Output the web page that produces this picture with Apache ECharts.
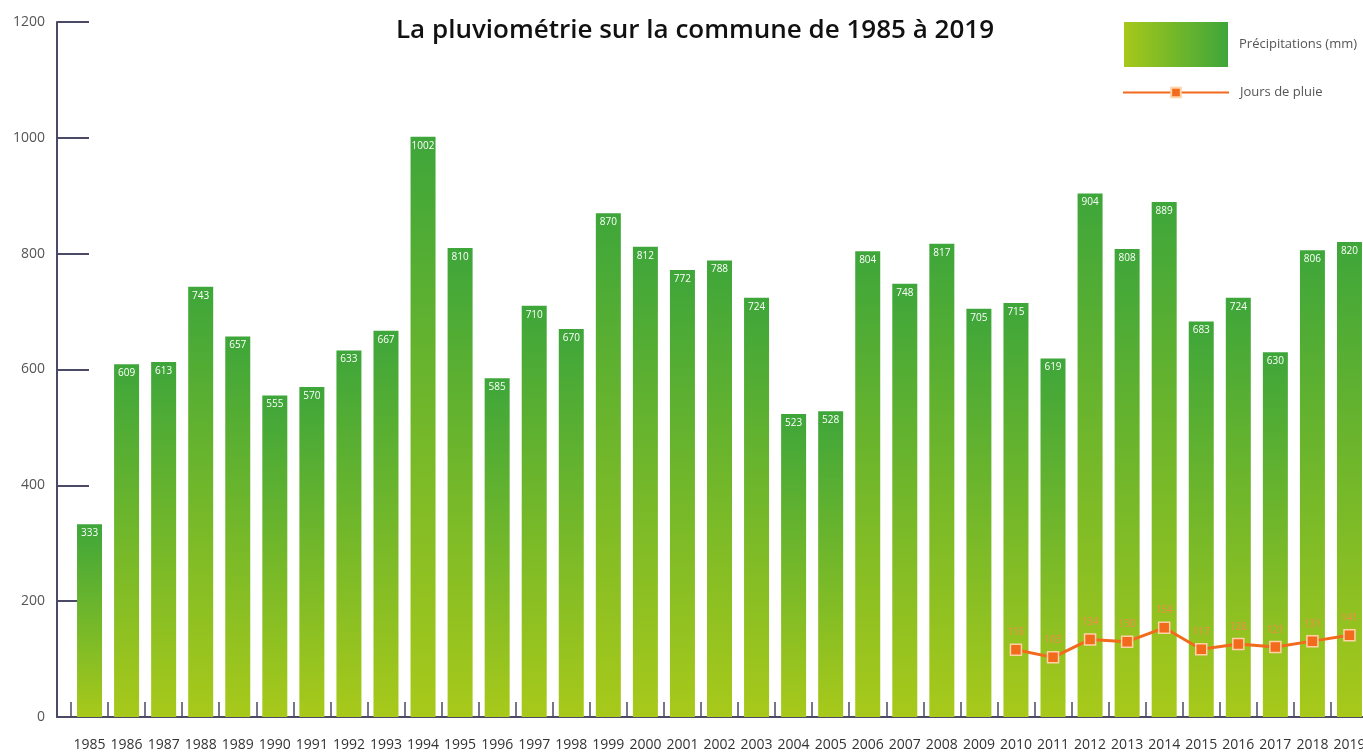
<!DOCTYPE html>
<html><head><meta charset="utf-8">
<script src="https://cdn.jsdelivr.net/npm/echarts@6/dist/echarts.min.js"></script>
<style>html,body{margin:0;padding:0;background:#fff;overflow:hidden}#c{width:1372px;height:753px}</style>
</head><body><div id="c"></div>
<script>
const years = ['1985','1986','1987','1988','1989','1990','1991','1992','1993','1994','1995','1996','1997','1998','1999','2000','2001','2002','2003','2004','2005','2006','2007','2008','2009','2010','2011','2012','2013','2014','2015','2016','2017','2018','2019'];
const precipitations = [333,609,613,743,657,555,570,633,667,1002,810,585,710,670,870,812,772,788,724,523,528,804,748,817,705,715,619,904,808,889,683,724,630,806,820];
const joursDePluie = [null,null,null,null,null,null,null,null,null,null,null,null,null,null,null,null,null,null,null,null,null,null,null,null,null,116,103,134,130,154,117,126,121,131,141];
const yTicks = {min:0, max:1200, interval:200};

const chart = echarts.init(document.getElementById('c'));
const axisColor = '#4a4a66';
chart.setOption({
  animation:false,
  title:{text:'La pluviométrie sur la commune de 1985 à 2019', left:690, textAlign:'center', top:13,
    textStyle:{fontFamily:'Open Sans', fontWeight:600, fontSize:26, color:'#111'}},
  legend:[
    {left:1124, top:22, padding:0, itemWidth:104, itemHeight:45, itemGap:0,
     textStyle:{color:'#555', fontSize:13, fontFamily:'Open Sans', padding:[0,0,0,6]},
     data:[{name:'Précipitations (mm)', icon:'rect', itemStyle:{color:new echarts.graphic.LinearGradient(0,0,1,0,[{offset:0,color:'#a6c81a'},{offset:1,color:'#3ea63a'}])}}]},
    {left:1122, top:86, padding:0, itemWidth:106, itemHeight:12, itemGap:0,
     textStyle:{color:'#555', fontSize:13, fontFamily:'Open Sans', padding:[0,0,0,6]},
     data:[{name:'Jours de pluie'}]}
  ],
  grid:[
    {left:71, width:1297, top:22, bottom:36, containLabel:false},
    {left:57, right:0, top:22, bottom:36}
  ],
  xAxis:[
    {type:'category', data:years, gridIndex:0, boundaryGap:true,
     axisLine:{show:false},
     axisTick:{show:true, inside:true, length:15, lineStyle:{color:axisColor, width:1.5}},
     axisLabel:{color:'#333', fontSize:14, margin:21, interval:0, fontFamily:'Open Sans'}},
    {type:'value', gridIndex:1, min:0, max:1,
     axisLine:{show:true, lineStyle:{color:axisColor, width:2}},
     axisTick:{show:false}, axisLabel:{show:false}, splitLine:{show:false}}
  ],
  yAxis:[
    {type:'value', gridIndex:0, min:yTicks.min, max:yTicks.max, interval:yTicks.interval, offset:14,
     axisLine:{show:true, lineStyle:{color:axisColor, width:2}},
     axisTick:{show:true, inside:true, length:32, lineStyle:{color:axisColor, width:2}},
     axisLabel:{color:'#555', fontSize:14, margin:12, fontFamily:'Open Sans', formatter:(v)=>String(v)},
     splitLine:{show:false}},
    {type:'value', gridIndex:1, show:false, min:0, max:1}
  ],
  series:[
    {name:'Précipitations (mm)', type:'bar', data:precipitations, barWidth:25,
     itemStyle:{color:new echarts.graphic.LinearGradient(0,0,0,1,[{offset:0,color:'#3ea63a'},{offset:1,color:'#a8c91a'}])},
     label:{show:true, position:'insideTop', distance:4, color:'#fff', fontSize:10, fontFamily:'Open Sans'}},
    {name:'Jours de pluie', type:'line', data:joursDePluie, connectNulls:false,
     lineStyle:{color:'#f26a1b', width:3},
     itemStyle:{color:'#f26a1b', borderColor:'#ffd2a8', borderWidth:1.5},
     symbol:'rect', symbolSize:11,
     label:{show:true, position:'top', distance:6, color:'#f58a4c', fontSize:10, fontFamily:'Open Sans'}}
  ]
});
</script></body></html>
